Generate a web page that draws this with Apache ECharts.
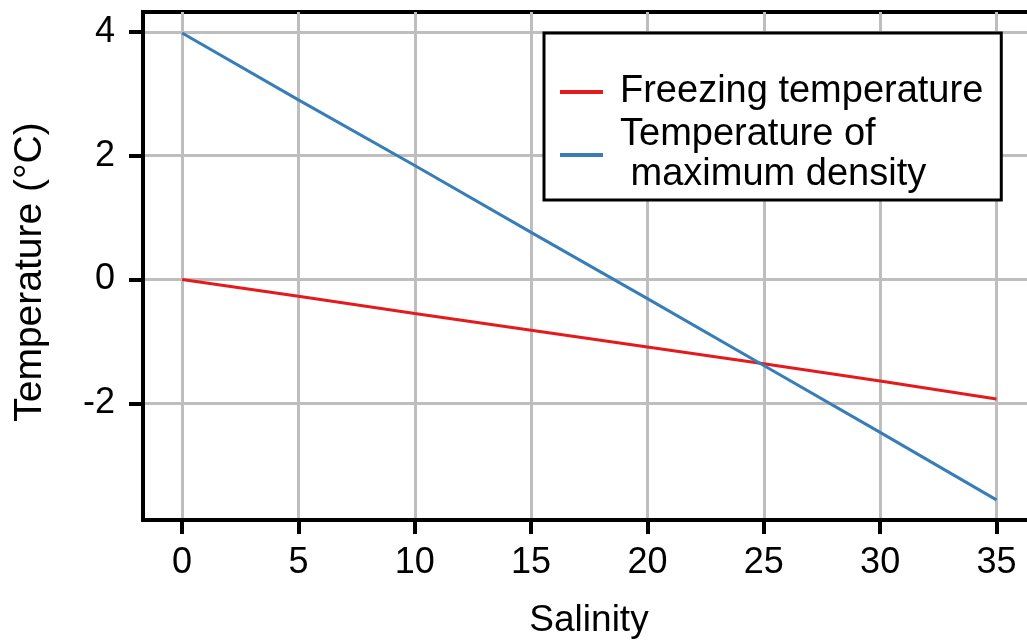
<!DOCTYPE html>
<html>
<head>
<meta charset="utf-8">
<script src="https://cdn.jsdelivr.net/npm/echarts@6/dist/echarts.min.js"></script>
<style>
html,body{margin:0;padding:0;background:#fff;overflow:hidden;width:1027px;height:640px;}
#chart{width:1050px;height:640px;}
</style>
</head>
<body>
<div id="chart"></div>
<script>
// Data
const salinity = [0, 5, 10, 15, 20, 25, 30, 35];
const freezingTemp = [0, -0.27, -0.55, -0.82, -1.09, -1.36, -1.64, -1.93];
const maxDensityTemp = [3.98, 2.90, 1.84, 0.76, -0.31, -1.39, -2.47, -3.56];
const xTicks = [0, 5, 10, 15, 20, 25, 30, 35];
const yTicks = [-2, 0, 2, 4];
const seriesNames = ['Freezing temperature', 'Temperature of\n maximum density'];

const FONT = '"Liberation Sans", Arial, sans-serif';
const pairs = (xs, ys) => xs.map((x, i) => [x, ys[i]]);

const chart = echarts.init(document.getElementById('chart'));
chart.setOption({
  animation: false,
  backgroundColor: '#fff',
  textStyle: { fontFamily: FONT, color: '#000' },
  grid: {
    left: 143, top: 12, width: 900, height: 508,
    show: true, borderColor: '#000', borderWidth: 4,
    containLabel: false, outerBoundsMode: 'none'
  },
  legend: {
    orient: 'vertical',
    left: 544, top: 33,
    padding: [39, 18, 5, 16],
    itemGap: 3,
    borderColor: '#000', borderWidth: 3,
    backgroundColor: '#fff',
    icon: 'rect', itemWidth: 43, itemHeight: 4,
    textStyle: { fontFamily: FONT, fontSize: 38, color: '#000', lineHeight: 40, padding: [0, 0, 0, 12] },
    data: seriesNames
  },
  xAxis: {
    type: 'value', min: -1.68, max: 37,
    name: 'Salinity', nameLocation: 'middle', nameGap: 82,
    nameTextStyle: { fontFamily: FONT, fontSize: 37, color: '#000', padding: [0, 8, 0, 0] },
    axisLine: { show: true, onZero: false, lineStyle: { color: '#000', width: 4 } },
    axisTick: { show: true, length: 14, lineStyle: { color: '#000', width: 4 }, customValues: xTicks },
    axisLabel: { fontFamily: FONT, fontSize: 36, color: '#000', margin: 25, customValues: xTicks },
    splitLine: { show: true, lineStyle: { color: '#bebebe', width: 3 } }
  },
  yAxis: {
    type: 'value', min: -3.885, max: 4.32,
    name: 'Temperature (°C)', nameLocation: 'middle', nameGap: 93,
    nameTextStyle: { fontFamily: FONT, fontSize: 39, color: '#000', padding: [0, 12, 0, 0] },
    axisLine: { show: true, onZero: false, lineStyle: { color: '#000', width: 4 } },
    axisTick: { show: true, length: 14, lineStyle: { color: '#000', width: 4 }, customValues: yTicks },
    axisLabel: { fontFamily: FONT, fontSize: 36, color: '#000', margin: 28, customValues: yTicks },
    splitLine: { show: true, lineStyle: { color: '#bebebe', width: 3 } }
  },
  series: [
    {
      name: seriesNames[0], type: 'line', data: pairs(salinity, freezingTemp),
      showSymbol: false, lineStyle: { color: '#E41A1C', width: 3 }, itemStyle: { color: '#E41A1C' }
    },
    {
      name: seriesNames[1], type: 'line', data: pairs(salinity, maxDensityTemp),
      showSymbol: false, lineStyle: { color: '#377EB8', width: 3 }, itemStyle: { color: '#377EB8' }
    }
  ]
});
</script>
</body>
</html>
